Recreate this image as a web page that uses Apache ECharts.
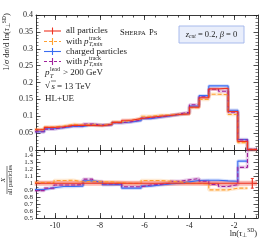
<!DOCTYPE html>
<html><head><meta charset="utf-8">
<script src="https://cdn.jsdelivr.net/npm/echarts@6/dist/echarts.min.js"></script>
<style>html,body{margin:0;padding:0;background:#fff}#c{width:266px;height:240px}</style>
</head><body><div id="c"></div>
<script>
// ---- data ----
const binEdges = [-10.909,-10.477,-10.045,-9.612,-9.180,-8.748,-8.316,-7.883,-7.451,-7.019,-6.587,-6.154,-5.722,-5.290,-4.858,-4.425,-3.993,-3.561,-3.129,-2.696,-2.264,-1.832,-1.400,-0.968];
const allParticles     = [0.060,0.067,0.069,0.073,0.073,0.073,0.072,0.076,0.082,0.088,0.093,0.097,0.100,0.102,0.105,0.107,0.127,0.155,0.181,0.183,0.114,0.025,0.001];
const allWithPtMin     = [0.061,0.068,0.071,0.076,0.074,0.075,0.073,0.077,0.083,0.088,0.093,0.100,0.103,0.104,0.106,0.107,0.125,0.150,0.165,0.164,0.105,0.022,0.001];
const chargedParticles = [0.054,0.063,0.066,0.070,0.070,0.075,0.073,0.075,0.081,0.083,0.087,0.093,0.097,0.101,0.105,0.109,0.130,0.161,0.190,0.190,0.118,0.031,0.001];
const chargedWithPtMin = [0.054,0.062,0.067,0.071,0.071,0.077,0.074,0.075,0.081,0.084,0.089,0.095,0.098,0.102,0.107,0.112,0.134,0.158,0.180,0.174,0.112,0.030,0.002];

const ratioAll          = [1,1,1,1,1,1,1,1,1,1,1,1,1,1,1,1,1,1,1,1,1,1,1];
const ratioAllPtMin     = [1.01,1.01,1.04,1.045,1.02,1.03,1.02,1.02,1.01,1.0,1.0,1.04,1.04,1.03,1.02,1.0,1.0,0.99,0.905,0.905,0.93,0.93,null];
const ratioCharged      = [0.91,0.935,0.955,0.955,0.96,1.035,1.015,0.98,0.985,0.93,0.93,0.96,0.975,0.99,1.0,1.02,1.04,1.045,1.045,1.035,1.03,1.32,null];
const ratioChargedPtMin = [0.895,0.93,0.975,0.975,0.98,1.06,1.025,0.99,0.99,0.95,0.95,0.975,0.985,1.0,1.03,1.05,1.07,1.03,0.985,0.955,0.98,1.23,2.0];
const ratioErrX  = [-1.184];
const ratioErrLo = [0.93];
const ratioErrHi = [1.07];

const xMajorTicks = [-10,-8,-6,-4,-2];
const xMinorTicks = [-10.5,-10,-9.5,-9,-8.5,-8,-7.5,-7,-6.5,-6,-5.5,-5,-4.5,-4,-3.5,-3,-2.5,-2,-1.5,-1];

const legendNames = ['all particles','with','charged particles','with'];
const legendHasPt = [false,true,false,true];

// ---- styles ----
const RED='#ee3322', ORANGE='#ffa030', BLUE='#3a6cf2', PURPLE='#a0229c';
const colors=[RED,ORANGE,BLUE,PURPLE];
const dashes=['solid',[4,2],'solid',[4,2]];
const FONT='Liberation Serif';
const AX='#222';
const XMIN=-10.85, XMAX=-0.93;

function stepData(edges, vals){
  let last=vals.length-1;
  while(last>=0 && vals[last]==null) last--;
  const pts=[];
  for(let i=0;i<=last;i++) pts.push([edges[i], vals[i]]);
  pts.push([edges[last+1], vals[last]]);
  return pts;
}

const chart=echarts.init(document.getElementById('c'),null,{renderer:'canvas'});

function xAx(grid, pos, major, labels){
  return {type:'value', gridIndex:grid, position:pos, min:XMIN, max:XMAX,
    axisLine:{show:major, onZero:false, lineStyle:{color:AX,width:0.9}},
    axisTick:{show:true, inside:true, length: major?5:2.5, customValues: major?xMajorTicks:xMinorTicks, lineStyle:{color:AX,width:0.8}},
    axisLabel:{show:labels, customValues:xMajorTicks, margin:4, fontFamily:FONT, fontSize:8, color:'#222',
      formatter:v=>String(Math.round(v))},
    splitLine:{show:false}};
}
function yAx(grid,pos,labels,min,max,interval,fs,fmt,minorSplit){
  return {type:'value', gridIndex:grid, position:pos, min:min, max:max, interval:interval,
    axisLine:{show:true, lineStyle:{color:AX,width:0.9}},
    axisTick:{show:true, inside:true, length:4.5, lineStyle:{color:AX,width:0.8}},
    minorTick:{show:true, splitNumber:minorSplit, length:2.5, lineStyle:{color:AX,width:0.6}},
    axisLabel:{show:labels, margin:3, fontFamily:FONT, fontSize:fs, color:'#222', formatter:fmt, showMaxLabel: max===0.4},
    splitLine:{show:false}};
}

const mainSeries=[allParticles,allWithPtMin,chargedParticles,chargedWithPtMin];
const ratioSeries=[ratioAll,ratioAllPtMin,ratioCharged,ratioChargedPtMin];
const order=[2,3,1,0];
const series=[];
order.forEach(k=>{
  series.push({type:'line', xAxisIndex:0, yAxisIndex:0, step:'end', symbol:'none', silent:true,
    data:stepData(binEdges, mainSeries[k]), lineStyle:{color:colors[k], width:3.5, opacity:0.22}, z:1});
  series.push({type:'line', xAxisIndex:0, yAxisIndex:0, step:'end', symbol:'none', silent:true,
    data:stepData(binEdges, mainSeries[k]), lineStyle:{color:colors[k], width:1.1, type:dashes[k]}, z:2});
});
order.forEach(k=>{
  series.push({type:'line', xAxisIndex:4, yAxisIndex:2, step:'end', symbol:'none', silent:true,
    data:stepData(binEdges, ratioSeries[k]), lineStyle:{color:colors[k], width:k===0?5:3.5, opacity:k===0?0.35:0.22}, z:1});
  series.push({type:'line', xAxisIndex:4, yAxisIndex:2, step:'end', symbol:'none', silent:true,
    data:stepData(binEdges, ratioSeries[k]), lineStyle:{color:colors[k], width:1.1, type:dashes[k]}, z:2});
});
series.push({type:'custom', xAxisIndex:4, yAxisIndex:2, silent:true, z:3,
  data: ratioErrX.map((x,i)=>[x, ratioErrLo[i], ratioErrHi[i]]),
  renderItem:(params,api)=>{
    const x=api.value(0);
    const p1=api.coord([x,api.value(1)]), p2=api.coord([x,api.value(2)]);
    return {type:'group', children:[
      {type:'line', shape:{x1:p1[0],y1:p1[1],x2:p2[0],y2:p2[1]}, style:{stroke:RED,lineWidth:1.2}},
      {type:'line', shape:{x1:p1[0]-1.5,y1:p1[1],x2:p1[0]+1.5,y2:p1[1]}, style:{stroke:RED,lineWidth:1}},
      {type:'line', shape:{x1:p2[0]-1.5,y1:p2[1],x2:p2[0]+1.5,y2:p2[1]}, style:{stroke:RED,lineWidth:1}}
    ]};
  }});

// ---- text / legend graphics ----
const graphic=[];
const legY=[31,41.5,51.5,61.5];
legendNames.forEach((nm,k)=>{
  const y=legY[k];
  graphic.push({type:'line', shape:{x1:44,y1:y,x2:61,y2:y}, style:{stroke:colors[k], lineWidth:1.1, lineDash: k%2?[3,2]:null}});
  graphic.push({type:'line', shape:{x1:52.5,y1:y-3.5,x2:52.5,y2:y+3.5}, style:{stroke:colors[k], lineWidth:1.1}});
  graphic.push({type:'text', x:66, y:y, style:{text:nm, font:'9px "Liberation Serif"', fill:'#222', verticalAlign:'middle'}});
  if(legendHasPt[k]){
    graphic.push({type:'text', x:84, y:y, style:{text:'p', font:'italic 9px "Liberation Serif"', fill:'#222', verticalAlign:'middle'}});
    graphic.push({type:'text', x:89, y:y-3.2, style:{text:'track', font:'6px "Liberation Serif"', fill:'#222', verticalAlign:'middle'}});
    graphic.push({type:'text', x:89, y:y+3.4, style:{text:'T,min', font:'italic 6px "Liberation Serif"', fill:'#222', verticalAlign:'middle'}});
  }
});
// pT lead
graphic.push({type:'text', x:45, y:73, style:{text:'p', font:'italic 9px "Liberation Serif"', fill:'#222', verticalAlign:'middle'}});
graphic.push({type:'text', x:50, y:69, style:{text:'lead', font:'6px "Liberation Serif"', fill:'#222', verticalAlign:'middle'}});
graphic.push({type:'text', x:50, y:76.5, style:{text:'T', font:'italic 6px "Liberation Serif"', fill:'#222', verticalAlign:'middle'}});
graphic.push({type:'text', x:63, y:73, style:{text:'> 200 GeV', font:'9px "Liberation Serif"', fill:'#222', verticalAlign:'middle'}});
graphic.push({type:'text', x:45, y:86, style:{text:'√', font:'9px "Liberation Serif"', fill:'#222', verticalAlign:'middle'}});
graphic.push({type:'line', shape:{x1:51,y1:81,x2:56,y2:81}, style:{stroke:'#222', lineWidth:0.6}});
graphic.push({type:'text', x:51.5, y:86.5, style:{text:'s', font:'italic 9px "Liberation Serif"', fill:'#222', verticalAlign:'middle'}});
graphic.push({type:'text', x:57, y:86.5, style:{text:'= 13 TeV', font:'9px "Liberation Serif"', fill:'#222', verticalAlign:'middle'}});
graphic.push({type:'text', x:45, y:99, style:{text:'HL+UE', font:'9px "Liberation Serif"', fill:'#222', verticalAlign:'middle'}});
// Sherpa PS
graphic.push({type:'text', x:120, y:33, style:{text:'{b|S}{s|HERPA} {b|P}{s|S}', verticalAlign:'middle', fill:'#222',
  rich:{b:{fontFamily:FONT,fontSize:8.5,fill:'#222'}, s:{fontFamily:FONT,fontSize:6.6,fill:'#222'}}}});
// z_cut box
graphic.push({type:'rect', shape:{x:179,y:26,width:65,height:17}, style:{fill:'#e9eefb', stroke:'#9fb3ea', lineWidth:0.9}});
graphic.push({type:'text', x:211.5, y:34.5, style:{text:'{i|z}{sub|cut} = 0.2, {i|β} = 0', align:'center', verticalAlign:'middle', fill:'#222',
  font:'8.5px "Liberation Serif"',
  rich:{i:{fontFamily:FONT,fontStyle:'italic',fontSize:8.5,fill:'#222'}, sub:{fontFamily:FONT,fontStyle:'italic',fontSize:5.5,fill:'#222',verticalAlign:'bottom',padding:[4,0,0,0]}}}});
// y label main
graphic.push({type:'text', x:7, y:42, rotation:Math.PI/2, style:{text:'1/{i|σ} d{i|σ}/d ln({i|τ}{sub|⊥}{sup|SD})', align:'center', verticalAlign:'middle', fill:'#222',
  font:'8.5px "Liberation Serif"',
  rich:{i:{fontFamily:FONT,fontStyle:'italic',fontSize:8.5,fill:'#222'}, sub:{fontFamily:FONT,fontSize:5.5,fill:'#222',padding:[4,0,0,0]}, sup:{fontFamily:FONT,fontSize:5.5,fill:'#222',padding:[0,0,5,0]}}}});
// ratio y label (fraction)
graphic.push({type:'text', x:3.5, y:180, rotation:Math.PI/2, style:{text:'X', align:'center', verticalAlign:'middle', font:'italic 7px "Liberation Serif"', fill:'#222'}});
graphic.push({type:'line', shape:{x1:7,y1:166,x2:7,y2:194}, style:{stroke:'#222', lineWidth:0.6}});
graphic.push({type:'text', x:10.5, y:180, rotation:Math.PI/2, style:{text:'all particles', align:'center', verticalAlign:'middle', font:'6.5px "Liberation Serif"', fill:'#222'}});
// x label
graphic.push({type:'text', x:257, y:233.5, style:{text:'ln({i|τ}{sub|⊥}{sup|SD})', align:'right', verticalAlign:'middle', fill:'#222',
  font:'8.5px "Liberation Serif"',
  rich:{i:{fontFamily:FONT,fontStyle:'italic',fontSize:8.5,fill:'#222'}, sub:{fontFamily:FONT,fontSize:5.5,fill:'#222',padding:[4,0,0,0]}, sup:{fontFamily:FONT,fontSize:5.5,fill:'#222',padding:[0,0,5,0]}}}});

chart.setOption({
  animation:false,
  backgroundColor:'#fff',
  grid:[{left:36, top:15, width:222, height:135}, {left:36, top:150, width:222, height:68}],
  xAxis:[xAx(0,'bottom',true,false), xAx(0,'bottom',false,false), xAx(0,'top',true,false), xAx(0,'top',false,false),
         xAx(1,'bottom',true,true), xAx(1,'bottom',false,false), xAx(1,'top',true,false), xAx(1,'top',false,false)],
  yAxis:[yAx(0,'left',true,0,0.4,0.05,8,v=>String(+v.toFixed(2)),5),
         yAx(0,'right',false,0,0.4,0.05,8,null,5),
         yAx(1,'left',true,0.5,1.48,0.1,7,v=>String(+v.toFixed(1)),2),
         yAx(1,'right',false,0.5,1.48,0.1,7,null,2)],
  series:series,
  graphic:graphic
});
</script></body></html>
